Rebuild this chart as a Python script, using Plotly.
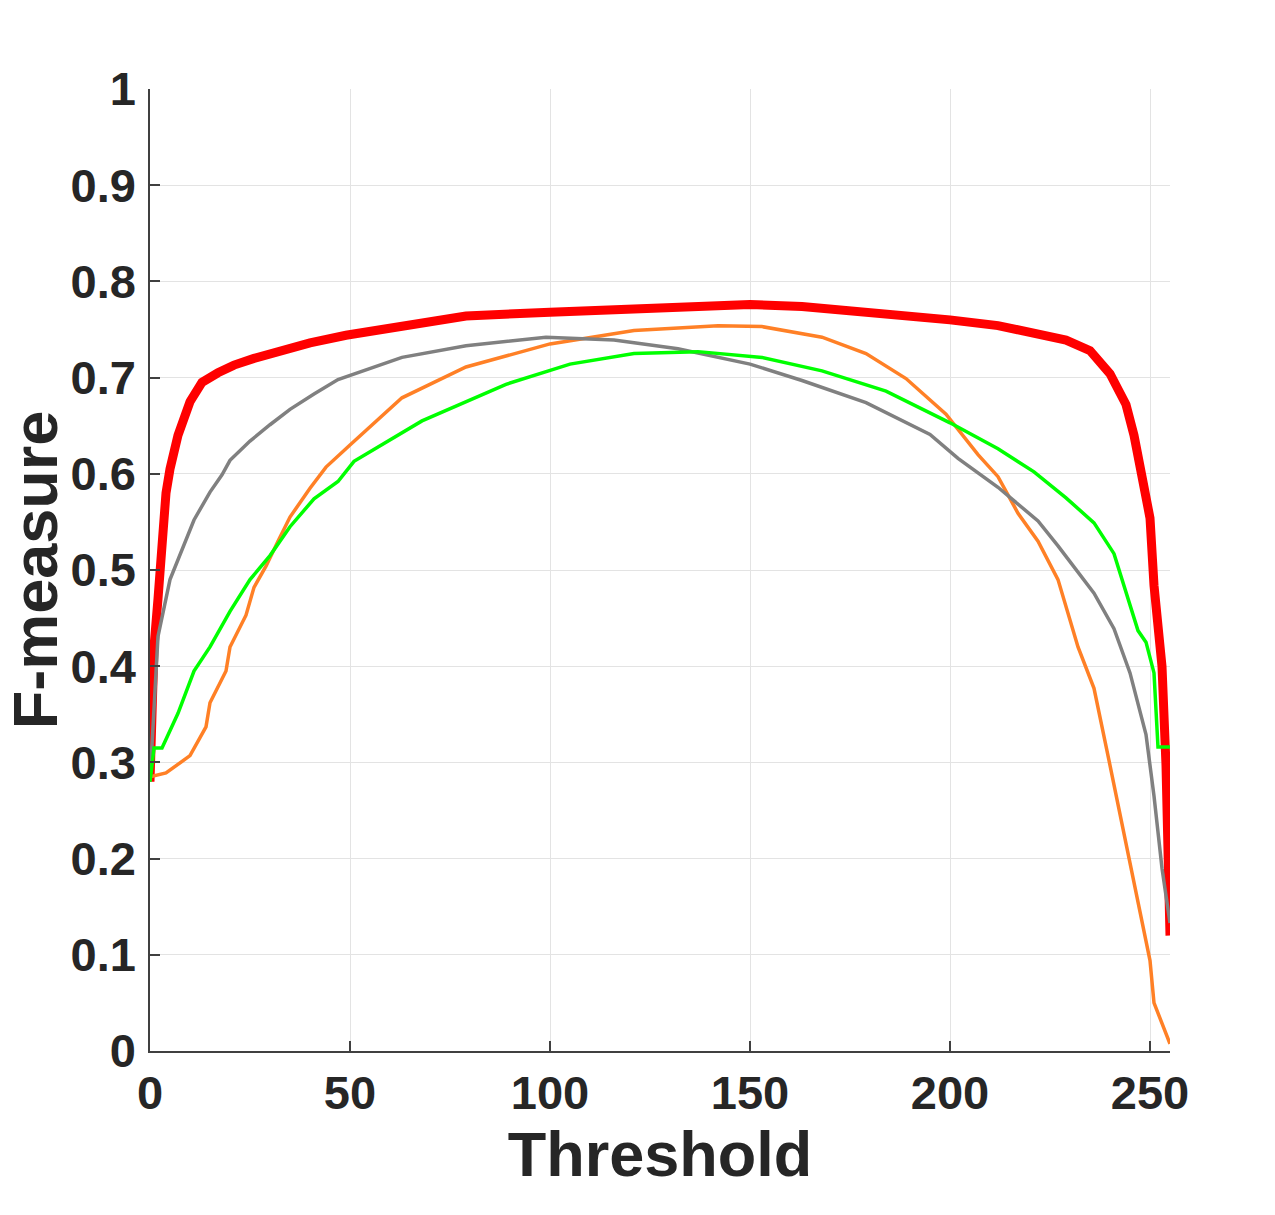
import plotly.graph_objects as go

# Threshold positions and F-measure values (one list per curve)
red_x = [0, 1, 2, 3, 4, 5, 7, 10, 13, 17, 21, 26, 32, 40, 49, 60, 79, 100, 126, 150, 163, 184, 200,
         212, 221, 229, 235, 237, 240, 244, 246, 248, 250, 251, 253, 254, 255]
red_y = [0.28, 0.42, 0.47, 0.53, 0.58, 0.605, 0.64, 0.675, 0.695, 0.705, 0.713, 0.72, 0.727, 0.736,
         0.744, 0.752, 0.764, 0.768, 0.772, 0.776, 0.774, 0.767, 0.760,
         0.754, 0.747, 0.739, 0.728, 0.717, 0.704, 0.672, 0.64, 0.597, 0.554, 0.484, 0.40, 0.297, 0.12]

grey_x = [0, 2, 5, 9, 11, 15, 18, 20, 25, 30, 35, 41, 47, 63, 79, 99, 116, 132, 150, 163, 179, 195,
          202, 212, 222, 227, 236, 241, 245, 249, 251, 253, 255]
grey_y = [0.28, 0.431, 0.49, 0.53, 0.552, 0.581, 0.599, 0.614, 0.634, 0.651, 0.667, 0.683, 0.698,
          0.721, 0.733, 0.742, 0.739, 0.730, 0.714, 0.697, 0.674, 0.641, 0.616, 0.586, 0.551, 0.525,
          0.476, 0.439, 0.393, 0.329, 0.265, 0.19, 0.133]

orange_x = [0, 4, 10, 14, 15, 19, 20, 24, 26, 29, 32, 35, 40, 44, 50, 63, 79, 100, 121, 142, 153,
            168, 179, 189, 199, 207, 212, 217, 222, 227, 232, 236, 240, 244, 247, 250, 251, 255]
orange_y = [0.285, 0.289, 0.307, 0.337, 0.362, 0.395, 0.42, 0.453, 0.482, 0.504, 0.53, 0.555, 0.585,
            0.607, 0.63, 0.679, 0.711, 0.735, 0.749, 0.754, 0.753, 0.742, 0.725, 0.699, 0.662, 0.62,
            0.597, 0.559, 0.53, 0.49, 0.42, 0.377, 0.297, 0.216, 0.152, 0.094, 0.05, 0.0075]

green_x = [0, 1, 3, 7, 11, 15, 20, 25, 30, 35, 41, 47, 51, 68, 89, 105, 121, 137, 153, 168, 184, 200,
           212, 221, 229, 236, 241, 243, 247, 249, 251, 252, 255]
green_y = [0.28, 0.315, 0.315, 0.351, 0.395, 0.42, 0.457, 0.49, 0.515, 0.545, 0.574, 0.592, 0.613,
           0.655, 0.693, 0.714, 0.725, 0.727, 0.721, 0.707, 0.686, 0.653, 0.626, 0.602, 0.575, 0.549,
           0.517, 0.49, 0.437, 0.425, 0.393, 0.316, 0.316]

x_ticks = [0, 50, 100, 150, 200, 250]
y_ticks = [0, 0.1, 0.2, 0.3, 0.4, 0.5, 0.6, 0.7, 0.8, 0.9, 1]
y_labels = ["0", "0.1", "0.2", "0.3", "0.4", "0.5", "0.6", "0.7", "0.8", "0.9", "1"]

fig = go.Figure()
fig.add_trace(go.Scatter(x=red_x, y=red_y, mode="lines", line=dict(color="#ff0000", width=9)))
fig.add_trace(go.Scatter(x=orange_x, y=orange_y, mode="lines", line=dict(color="#ff8026", width=3.5)))
fig.add_trace(go.Scatter(x=grey_x, y=grey_y, mode="lines", line=dict(color="#808080", width=3.5)))
fig.add_trace(go.Scatter(x=green_x, y=green_y, mode="lines", line=dict(color="#00ff00", width=3.5)))

font_family = "Liberation Sans, Arial, Helvetica, sans-serif"
axis_common = dict(
    showgrid=True, gridcolor="#e3e3e3", gridwidth=1,
    showline=True, linecolor="#404040", linewidth=1.5,
    ticks="inside", ticklen=10, tickwidth=1.5, tickcolor="#404040",
    zeroline=False, mirror=False,
    tickfont=dict(family=font_family, size=47, color="#262626", weight="bold"),
)

fig.update_layout(
    width=1275, height=1215,
    margin=dict(l=150, r=105, t=89, b=164),
    paper_bgcolor="white", plot_bgcolor="white",
    showlegend=False,
    font=dict(family=font_family, color="#262626", weight="bold"),
    xaxis=dict(range=[0, 255], tickvals=x_ticks, ticktext=[str(v) for v in x_ticks],
               title=dict(text="Threshold", font=dict(family=font_family, size=63, color="#262626", weight="bold"), standoff=6),
               **axis_common),
    yaxis=dict(range=[0, 1], tickvals=y_ticks, ticktext=y_labels, ticklabelstandoff=3,
               title=dict(text="F-measure", font=dict(family=font_family, size=63, color="#262626", weight="bold"), standoff=8),
               **axis_common),
)

fig.write_html("out.html")
